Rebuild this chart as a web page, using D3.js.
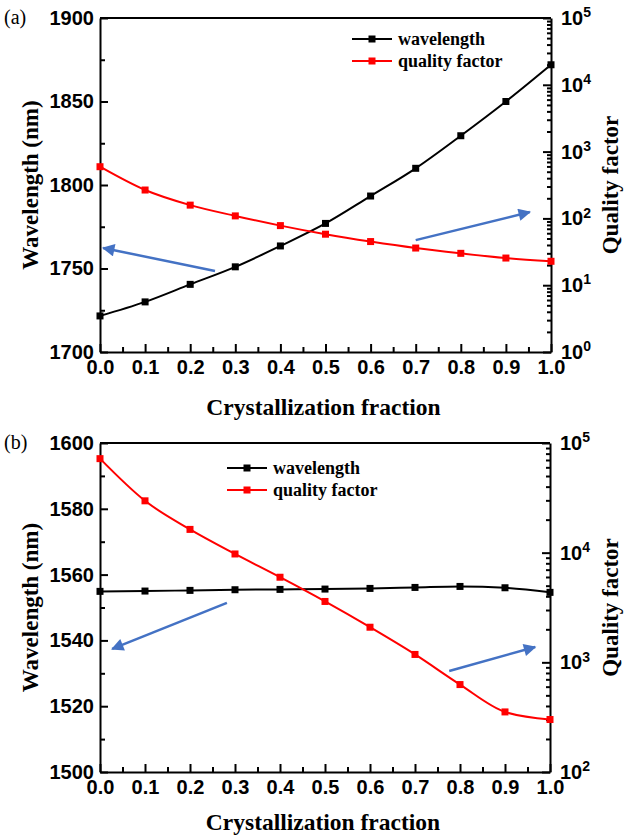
<!DOCTYPE html>
<html>
<head>
<meta charset="utf-8">
<script src="https://cdn.jsdelivr.net/npm/d3@7"></script>
<style>
  body { margin: 0; background: #fff; }
  svg { display: block; }
</style>
</head>
<body>
<script>
// crystallization fraction (x for both panels)
const fraction = [0, 0.1, 0.2, 0.3, 0.4, 0.5, 0.6, 0.7, 0.8, 0.9, 1.0];

// panel (a)
const wavelengthA = [1721.6, 1730, 1740.5, 1751, 1763.5, 1777, 1793.4, 1810, 1829.5, 1850, 1872];
const qualityA = [594, 266, 158, 109, 78, 58, 45, 36, 30, 25.5, 22.8];

// panel (b)
const wavelengthB = [1554.9, 1555.0, 1555.2, 1555.4, 1555.5, 1555.6, 1555.8, 1556.1, 1556.4, 1556.0, 1554.6];
const qualityB = [72000, 29700, 16300, 9730, 5970, 3590, 2090, 1180, 627, 353, 301];

const xTicks = [0, 0.1, 0.2, 0.3, 0.4, 0.5, 0.6, 0.7, 0.8, 0.9, 1.0];
const seriesNames = ["wavelength", "quality factor"];

const W = 632, H = 839;
const BLUE = "#4472c4";
const SANS = "'Liberation Sans', Arial, sans-serif";
const SERIF = "'Liberation Serif', 'Times New Roman', serif";

const svg = d3.select("body").append("svg")
  .attr("width", W)
  .attr("height", H);

svg.append("defs").append("marker")
  .attr("id", "arrow")
  .attr("viewBox", "0 0 10 10")
  .attr("refX", 9).attr("refY", 5)
  .attr("markerWidth", 6).attr("markerHeight", 5)
  .attr("markerUnits", "strokeWidth")
  .attr("orient", "auto")
  .append("path")
    .attr("d", "M0,0L10,5L0,10Z")
    .attr("fill", BLUE);

function draw_panel(opts) {
  const g = svg.append("g");
  const x = d3.scaleLinear().domain([0, 1]).range([opts.left, opts.right]);
  const yL = d3.scaleLinear().domain(opts.wlDomain).range([opts.bottom, opts.top]);
  const yR = d3.scaleLog().domain(opts.qDomain).range([opts.bottom, opts.top]);

  // top frame line
  g.append("line")
    .attr("x1", opts.left).attr("x2", opts.right)
    .attr("y1", opts.top).attr("y2", opts.top)
    .attr("stroke", "#000").attr("stroke-width", 2);

  // x axis
  const minorX = d3.range(0.05, 1, 0.1);
  g.append("g")
    .attr("transform", `translate(0,${opts.bottom})`)
    .call(d3.axisBottom(x).tickValues(minorX).tickSize(-5).tickSizeOuter(0).tickFormat(""))
    .call(a => a.select(".domain").remove());
  g.append("g")
    .attr("class", "ax")
    .attr("transform", `translate(0,${opts.bottom})`)
    .call(d3.axisBottom(x).tickValues(xTicks).tickSize(-8).tickSizeOuter(0)
      .tickPadding(8).tickFormat(d3.format(".1f")));

  // left axis
  const step = opts.wlStep;
  const minorL = d3.range(opts.wlDomain[0] + step / 2, opts.wlDomain[1], step);
  g.append("g")
    .attr("transform", `translate(${opts.left},0)`)
    .call(d3.axisLeft(yL).tickValues(minorL).tickSize(-5).tickSizeOuter(0).tickFormat(""))
    .call(a => a.select(".domain").remove());
  g.append("g")
    .attr("class", "ax")
    .attr("transform", `translate(${opts.left},0)`)
    .call(d3.axisLeft(yL).tickValues(d3.range(opts.wlDomain[0], opts.wlDomain[1] + 1, step))
      .tickSize(-8).tickSizeOuter(0).tickPadding(6).tickFormat(d3.format("d")));

  // right log axis
  const lo = Math.round(Math.log10(opts.qDomain[0])), hi = Math.round(Math.log10(opts.qDomain[1]));
  const majorR = d3.range(lo, hi + 1).map(e => Math.pow(10, e));
  const minorR = [];
  d3.range(lo, hi).forEach(e => { for (let k = 2; k < 10; k++) minorR.push(k * Math.pow(10, e)); });
  g.append("g")
    .attr("transform", `translate(${opts.right},0)`)
    .call(d3.axisRight(yR).tickValues(minorR).tickSize(-4).tickSizeOuter(0).tickFormat(""))
    .call(a => a.select(".domain").remove());
  const right = g.append("g")
    .attr("class", "ax")
    .attr("transform", `translate(${opts.right},0)`)
    .call(d3.axisRight(yR).tickValues(majorR).tickSize(-8).tickSizeOuter(0).tickPadding(10)
      .tickFormat(d => "10"));
  right.selectAll(".tick text").each(function(d) {
    const t = d3.select(this);
    t.text("10");
    t.append("tspan")
      .attr("dy", "-0.55em")
      .attr("font-size", 14)
      .text(Math.round(Math.log10(d)));
  });

  g.selectAll(".ax .tick text")
    .attr("font-family", SANS).attr("font-weight", "bold").attr("font-size", 20).attr("fill", "#000");
  g.selectAll(".tick line").attr("stroke", "#000").attr("stroke-width", 2);
  g.selectAll(".domain").attr("stroke", "#000").attr("stroke-width", 2);

  // series
  const lineL = d3.line().x((d, i) => x(fraction[i])).y(d => yL(d)).curve(d3.curveMonotoneX);
  const lineR = d3.line().x((d, i) => x(fraction[i])).y(d => yR(d)).curve(d3.curveMonotoneX);

  const series = [
    {vals: opts.wl, line: lineL, y: yL, color: "#000"},
    {vals: opts.q, line: lineR, y: yR, color: "#ff0000"}
  ];
  series.forEach(s => {
    g.append("path")
      .datum(s.vals)
      .attr("d", s.line)
      .attr("fill", "none")
      .attr("stroke", s.color)
      .attr("stroke-width", 2);
    g.selectAll(null)
      .data(s.vals)
      .enter().append("rect")
        .attr("x", (d, i) => x(fraction[i]) - 3.5)
        .attr("y", d => s.y(d) - 3.5)
        .attr("width", 7).attr("height", 7)
        .attr("fill", s.color);
  });

  // legend
  const lg = g.append("g").attr("transform", `translate(${opts.legend[0]},${opts.legend[1]})`);
  seriesNames.forEach((name, i) => {
    const row = lg.append("g").attr("transform", `translate(0,${i * 22})`);
    row.append("line").attr("x1", 0).attr("x2", 40).attr("y1", 0).attr("y2", 0)
      .attr("stroke", series[i].color).attr("stroke-width", 2);
    row.append("rect").attr("x", 16.5).attr("y", -3.5).attr("width", 7).attr("height", 7)
      .attr("fill", series[i].color);
    row.append("text").attr("x", 46).attr("y", 5.5)
      .attr("font-family", SERIF).attr("font-weight", "bold").attr("font-size", 18)
      .text(name);
  });

  // blue arrows
  opts.arrows.forEach(a => {
    g.append("line")
      .attr("x1", x(a[0])).attr("y1", yL(a[1]))
      .attr("x2", x(a[2])).attr("y2", yL(a[3]))
      .attr("stroke", BLUE).attr("stroke-width", 2.5)
      .attr("marker-end", "url(#arrow)");
  });

  // titles
  const midY = (opts.top + opts.bottom) / 2;
  g.append("text")
    .attr("x", (opts.left + opts.right) / 2 - 2).attr("y", Math.min(opts.bottom + 63, H - 9))
    .attr("text-anchor", "middle")
    .attr("font-family", SERIF).attr("font-weight", "bold").attr("font-size", 23.5)
    .text("Crystallization fraction");
  g.append("text")
    .attr("transform", `translate(38,${midY}) rotate(-90)`)
    .attr("text-anchor", "middle")
    .attr("font-family", SERIF).attr("font-weight", "bold").attr("font-size", 23)
    .text("Wavelength (nm)");
  g.append("text")
    .attr("transform", `translate(618,${midY}) rotate(-90)`)
    .attr("text-anchor", "middle")
    .attr("font-family", SERIF).attr("font-weight", "bold").attr("font-size", 23)
    .text("Quality factor");
  g.append("text")
    .attr("x", 4).attr("y", opts.top + 6)
    .attr("font-family", SERIF).attr("font-size", 20)
    .text(opts.tag);
}

draw_panel({
  tag: "(a)",
  left: 100, right: 551, top: 18, bottom: 352,
  wlDomain: [1700, 1900], wlStep: 50, qDomain: [1, 1e5],
  wl: wavelengthA, q: qualityA,
  legend: [352, 39],
  arrows: [[0.255, 1748.5, 0.007, 1762.3], [0.70, 1767, 0.953, 1783.8]]
});

draw_panel({
  tag: "(b)",
  left: 100, right: 550, top: 443, bottom: 772,
  wlDomain: [1500, 1600], wlStep: 20, qDomain: [100, 1e5],
  wl: wavelengthB, q: qualityB,
  legend: [227, 468],
  arrows: [[0.282, 1551.4, 0.027, 1537.4], [0.776, 1530.7, 0.967, 1538]]
});
</script>
</body>
</html>
